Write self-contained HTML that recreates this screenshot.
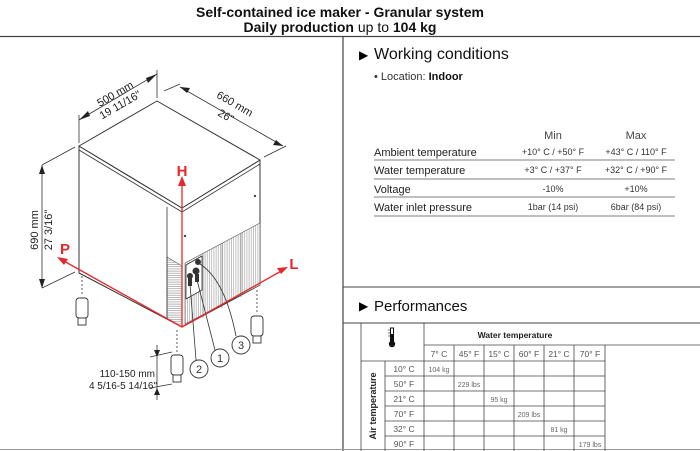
<!DOCTYPE html>
<html><head><meta charset="utf-8"><style>
html,body{margin:0;padding:0;background:#fff;}
body{width:700px;height:451px;overflow:hidden;position:relative;font-family:"Liberation Sans",Arial,sans-serif;}
svg{position:absolute;left:0;top:0;}
</style></head><body>
<svg width="700" height="451" viewBox="0 0 700 451" font-family="Liberation Sans, Arial, sans-serif">
<defs>
<pattern id="hl" width="4" height="2.2" patternUnits="userSpaceOnUse"><rect width="4" height="2.2" fill="#fff"/><line x1="0" y1="0.5" x2="4" y2="0.5" stroke="#888" stroke-width="0.6"/></pattern>
<pattern id="vl" width="2.2" height="4" patternUnits="userSpaceOnUse"><rect width="2.2" height="4" fill="#fff"/><line x1="0.5" y1="0" x2="0.5" y2="4" stroke="#999" stroke-width="0.6"/></pattern>
</defs>
<!-- titles -->
<text x="340" y="17" text-anchor="middle" font-size="14" font-weight="bold" fill="#111">Self-contained ice maker - Granular system</text>
<text x="340" y="32" text-anchor="middle" font-size="14" fill="#111"><tspan font-weight="bold">Daily production</tspan> up to <tspan font-weight="bold">104 kg</tspan></text>
<line x1="0" y1="36.5" x2="700" y2="36.5" stroke="#444" stroke-width="1.2"/>
<line x1="343" y1="36" x2="343" y2="451" stroke="#444" stroke-width="1.2"/>
<line x1="343" y1="287" x2="700" y2="287" stroke="#444" stroke-width="1"/>
<line x1="343" y1="323" x2="700" y2="323" stroke="#444" stroke-width="1"/>
<line x1="0" y1="449.5" x2="700" y2="449.5" stroke="#999" stroke-width="1"/>

<!-- working conditions -->
<text x="359" y="59" font-size="12">&#9654;</text>
<text x="374" y="59" font-size="16" fill="#111">Working conditions</text>
<text x="374" y="80" font-size="11" fill="#333">• Location: <tspan font-weight="bold" fill="#111">Indoor</tspan></text>
<g font-size="11" fill="#222">
<text x="553" y="139" text-anchor="middle" fill="#444">Min</text>
<text x="636" y="139" text-anchor="middle" fill="#444">Max</text>
<text x="374" y="156">Ambient temperature</text>
<text x="374" y="174">Water temperature</text>
<text x="374" y="193">Voltage</text>
<text x="374" y="211">Water inlet pressure</text>
</g>
<g font-size="9" fill="#333" text-anchor="middle">
<text x="553" y="155">+10° C / +50° F</text><text x="636" y="155">+43° C / 110° F</text>
<text x="553" y="173">+3° C / +37° F</text><text x="636" y="173">+32° C / +90° F</text>
<text x="553" y="192">-10%</text><text x="636" y="192">+10%</text>
<text x="553" y="210">1bar (14 psi)</text><text x="636" y="210">6bar (84 psi)</text>
</g>
<g stroke="#555" stroke-width="0.8">
<line x1="374" y1="160" x2="675" y2="160"/><line x1="374" y1="179" x2="675" y2="179"/>
<line x1="374" y1="197" x2="675" y2="197"/><line x1="374" y1="216" x2="675" y2="216"/>
</g>

<!-- performances -->
<text x="359" y="310" font-size="12">&#9654;</text>
<text x="374" y="311" font-size="15" fill="#111">Performances</text>
<g stroke="#444" stroke-width="0.8" fill="none">
<line x1="361" y1="323" x2="361" y2="451"/>
<line x1="424" y1="323" x2="424" y2="451"/>
<line x1="385" y1="361" x2="385" y2="451"/>
<line x1="424" y1="345" x2="700" y2="345"/>
<line x1="361" y1="361" x2="605" y2="361"/>
<line x1="385" y1="376" x2="605" y2="376"/><line x1="385" y1="391" x2="605" y2="391"/>
<line x1="385" y1="406" x2="605" y2="406"/><line x1="385" y1="421" x2="605" y2="421"/>
<line x1="385" y1="436" x2="605" y2="436"/>
<line x1="454" y1="345" x2="454" y2="451"/><line x1="484" y1="345" x2="484" y2="451"/>
<line x1="514" y1="345" x2="514" y2="451"/><line x1="544" y1="345" x2="544" y2="451"/>
<line x1="574" y1="345" x2="574" y2="451"/><line x1="605" y1="345" x2="605" y2="451"/>
</g>
<!-- thermometer -->
<rect x="390.5" y="328" width="3" height="13" fill="#fff" stroke="#111" stroke-width="1"/>
<line x1="392" y1="334" x2="392" y2="342" stroke="#111" stroke-width="2"/>
<circle cx="392" cy="344" r="3.2" fill="#111"/>
<line x1="388" y1="330" x2="390" y2="330" stroke="#111" stroke-width="0.6"/>
<line x1="388" y1="333" x2="390" y2="333" stroke="#111" stroke-width="0.6"/>
<line x1="388" y1="336" x2="390" y2="336" stroke="#111" stroke-width="0.6"/>
<text x="515" y="338" text-anchor="middle" font-size="8.5" font-weight="bold" fill="#222">Water temperature</text>
<g font-size="8.5" fill="#555" text-anchor="middle">
<text x="439" y="357">7° C</text><text x="469" y="357">45° F</text><text x="499" y="357">15° C</text>
<text x="529" y="357">60° F</text><text x="559" y="357">21° C</text><text x="590" y="357">70° F</text>
<text x="404" y="372">10° C</text><text x="404" y="387">50° F</text><text x="404" y="402">21° C</text>
<text x="404" y="417">70° F</text><text x="404" y="432">32° C</text><text x="404" y="447">90° F</text>
</g>
<g font-size="7" fill="#666" text-anchor="middle">
<text x="439" y="372">104 kg</text><text x="469" y="387">229 lbs</text><text x="499" y="402">95 kg</text>
<text x="529" y="417">209 lbs</text><text x="559" y="432">81 kg</text><text x="590" y="447">179 lbs</text>
</g>
<text transform="translate(376,406) rotate(-90)" text-anchor="middle" font-size="9" font-weight="bold" fill="#222">Air temperature</text>

<!-- drawing -->
<g stroke="#333" stroke-width="1" fill="#fff" stroke-linejoin="round">
<!-- left face -->
<polygon points="79,146 182,208 182,327 79,273" />
<rect x="0" y="0" width="0" height="0"/>
<polygon points="167,257 182,266 182,327 167,319" fill="url(#hl)" stroke="#555" stroke-width="0.6"/>
<line x1="167" y1="207" x2="167" y2="319" stroke-width="0.8"/>
<!-- right face -->
<polygon points="182,208 260,160 260,285 182,327"/>
<polygon points="185,263 260,223 260,285 185,324" fill="url(#vl)" stroke="#555" stroke-width="0.6"/>
<line x1="203" y1="253" x2="203" y2="318" stroke="#777" stroke-width="0.6"/>
<line x1="222" y1="243" x2="222" y2="308" stroke="#777" stroke-width="0.6"/>
<line x1="241" y1="233" x2="241" y2="297" stroke="#777" stroke-width="0.6"/>
<polygon points="186,265 202,256 202,290 186,299" fill="#fff" stroke-width="0.8"/>
<!-- top -->
<polygon points="79,146 157,101 260,160 182,208"/>
<polyline points="79,150 182,212 260,164" fill="none" stroke-width="0.8"/>
</g>
<circle cx="255" cy="196" r="1.2" fill="#444"/>
<circle cx="185" cy="236" r="1.2" fill="#444"/>
<!-- connectors -->
<g fill="#333">
<circle cx="198" cy="262" r="3"/><circle cx="196" cy="271" r="3.5"/><circle cx="190" cy="276" r="3"/>
<rect x="188" y="278" width="4" height="8"/><rect x="195" y="274" width="4" height="8"/>
</g>
<g stroke="#333" stroke-width="0.8" fill="none">
<path d="M190,284 L196,360"/><path d="M197,280 L215,350"/><path d="M200,264 Q225,280 236,336"/>
</g>
<g stroke="#333" stroke-width="0.9" fill="#fff" font-size="11">
<circle cx="199" cy="369" r="9"/><circle cx="220" cy="358" r="9"/><circle cx="241" cy="345" r="9"/>
</g>
<g font-size="11" fill="#333" text-anchor="middle">
<text x="199" y="373">2</text><text x="220" y="362">1</text><text x="241" y="349">3</text>
</g>
<!-- feet -->
<g stroke="#333" stroke-width="0.9" fill="#fff">
<rect x="76" y="298" width="12" height="20" rx="3"/><rect x="78" y="318" width="8" height="7"/>
<rect x="171" y="355" width="12" height="20" rx="3"/><rect x="173" y="375" width="8" height="7"/>
<rect x="251" y="316" width="12" height="20" rx="3"/><rect x="253" y="336" width="8" height="7"/>
</g>
<g stroke="#333" stroke-width="0.8" stroke-dasharray="2,2">
<line x1="82" y1="276" x2="82" y2="296"/><line x1="177" y1="330" x2="177" y2="353"/><line x1="257" y1="290" x2="257" y2="314"/>
</g>
<!-- foot dim -->
<g stroke="#333" stroke-width="0.8">
<line x1="157" y1="345" x2="157" y2="400"/>
<line x1="150" y1="357" x2="172" y2="352"/><line x1="150" y1="388" x2="172" y2="384"/>
</g>
<polygon points="157,357 154,350 160,350" fill="#222"/><polygon points="157,388 154,395 160,395" fill="#222"/>
<text x="155" y="377" font-size="10" text-anchor="end" fill="#222">110-150 mm</text>
<text x="157" y="389" font-size="10" text-anchor="end" fill="#222">4 5/16-5 14/16"</text>
<!-- dim lines -->
<g stroke="#333" stroke-width="0.8">
<line x1="79" y1="115" x2="79" y2="143"/><line x1="157" y1="70" x2="157" y2="98"/>
<line x1="79" y1="120" x2="157" y2="74"/>
<line x1="164" y1="91" x2="180" y2="84"/><line x1="264" y1="157" x2="286" y2="146"/>
<line x1="180" y1="87" x2="283" y2="146"/>
<line x1="42" y1="165" x2="42" y2="288"/>
<line x1="42" y1="165" x2="75" y2="147"/><line x1="42" y1="288" x2="75" y2="272"/>
</g>
<g fill="#222">
<polygon points="79,120 88,111 90,116"/><polygon points="157,74 146,78 148,83"/>
<polygon points="180,87 190,88 187,93"/><polygon points="283,146 273,145 276,140"/>
<polygon points="42,165 39,174 45,174"/><polygon points="42,288 39,279 45,279"/>
</g>
<text transform="translate(117,97) rotate(-30)" text-anchor="middle" font-size="11" fill="#222">500 mm</text>
<text transform="translate(122,108) rotate(-30)" text-anchor="middle" font-size="11" fill="#222">19 11/16"</text>
<text transform="translate(233,107) rotate(30)" text-anchor="middle" font-size="11" fill="#222">660 mm</text>
<text transform="translate(224,119) rotate(30)" text-anchor="middle" font-size="11" fill="#222">26"</text>
<text transform="translate(38,230) rotate(-90)" text-anchor="middle" font-size="11" fill="#222">690 mm</text>
<text transform="translate(52,230) rotate(-90)" text-anchor="middle" font-size="11" fill="#222">27 3/16"</text>
<!-- red axes -->
<g stroke="#e8262b" stroke-width="1.3">
<line x1="182" y1="327" x2="182" y2="182"/>
<line x1="182" y1="327" x2="62" y2="260"/>
<line x1="182" y1="327" x2="283" y2="270"/>
</g>
<g fill="#e8262b">
<polygon points="182,176 178,186 186,186"/>
<polygon points="57,257 68,259 64,265"/>
<polygon points="288,267 277,268 281,274"/>
<text x="182" y="176" font-size="15" font-weight="bold" text-anchor="middle">H</text>
<text x="65" y="254" font-size="15" font-weight="bold" text-anchor="middle">P</text>
<text x="294" y="269" font-size="15" font-weight="bold" text-anchor="middle">L</text>
</g>
</svg>
</body></html>
